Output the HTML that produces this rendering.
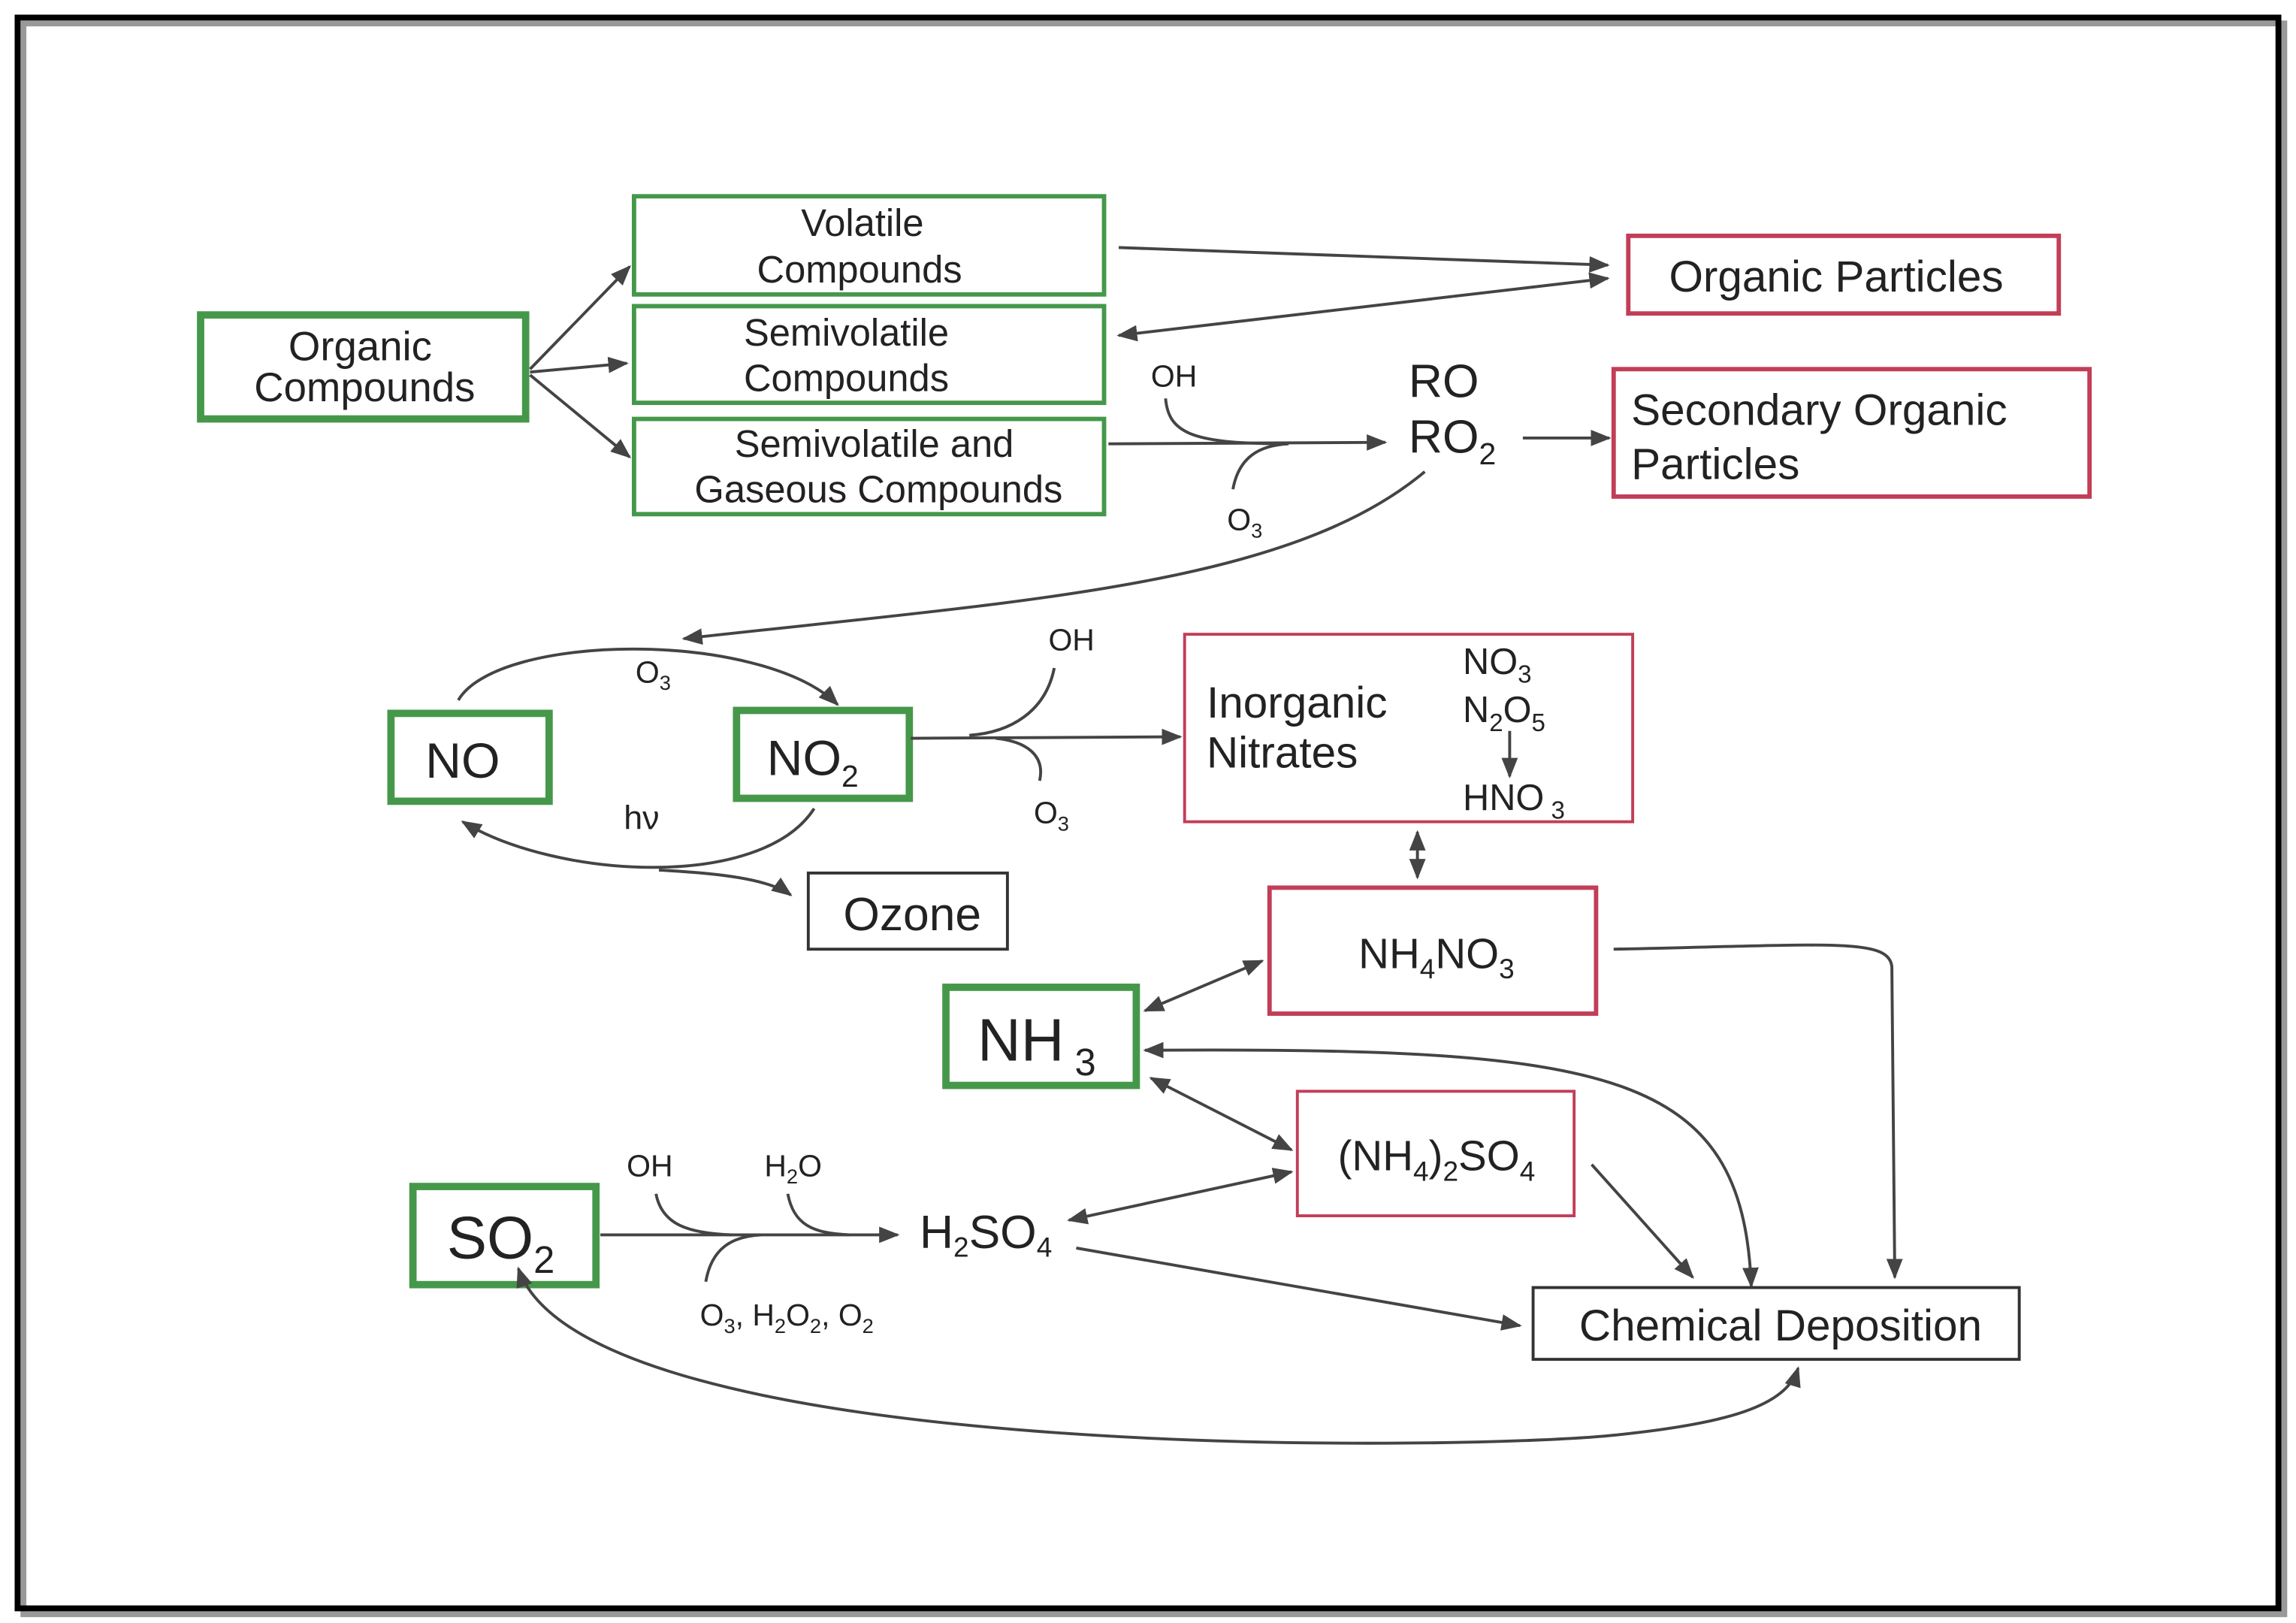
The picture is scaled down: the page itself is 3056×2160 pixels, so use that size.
<!DOCTYPE html>
<html><head><meta charset="utf-8"><style>
html,body{margin:0;padding:0;background:#fff;}
svg{display:block;}
text{font-family:"Liberation Sans","DejaVu Sans",sans-serif;fill:#222;}
</style></head><body>
<svg width="3056" height="2160" viewBox="0 0 1568 1108" preserveAspectRatio="none" xmlns="http://www.w3.org/2000/svg">
<defs>
<marker id="a" viewBox="0 0 10 10" refX="9" refY="5" markerWidth="7" markerHeight="7" orient="auto-start-reverse"><path d="M0,1 L10,5 L0,9 z" fill="#444"/></marker>
</defs>
<rect x="0" y="0" width="1568" height="1108" fill="#fff"/>
<rect x="16" y="16" width="1544" height="1086" fill="none" stroke="#999" stroke-width="4"/>
<rect x="12" y="12" width="1544" height="1086" fill="none" stroke="#000" stroke-width="4"/>
<g fill="#fff" stroke="#45984a">
<rect x="137" y="215" width="222" height="71" stroke-width="5"/>
<rect x="433" y="134" width="321" height="67" stroke-width="3"/>
<rect x="433" y="209" width="321" height="66" stroke-width="3"/>
<rect x="433" y="286" width="321" height="65" stroke-width="3"/>
<rect x="267" y="487" width="108" height="60" stroke-width="5"/>
<rect x="503" y="485" width="118" height="60" stroke-width="5"/>
<rect x="646" y="674" width="130" height="67" stroke-width="5"/>
<rect x="282" y="810" width="125" height="67" stroke-width="5"/>
</g>
<g fill="#fff" stroke="#c23e58" stroke-width="3">
<rect x="1112" y="161" width="294" height="53"/>
<rect x="1102" y="252" width="325" height="87"/>
<rect x="809" y="433" width="306" height="128" stroke-width="2"/>
<rect x="867" y="606" width="223" height="86"/>
<rect x="886" y="745" width="189" height="85" stroke-width="2"/>
</g>
<g fill="#fff" stroke="#333" stroke-width="2">
<rect x="552" y="596" width="136" height="52"/>
<rect x="1047" y="879" width="332" height="49"/>
</g>
<g font-size="28" text-anchor="middle">
<text x="246" y="246">Organic</text><text x="249" y="274">Compounds</text>
<text x="589" y="161" font-size="26">Volatile</text><text x="587" y="193" font-size="26">Compounds</text>
<text x="578" y="236" font-size="26">Semivolatile</text><text x="578" y="267" font-size="26">Compounds</text>
<text x="597" y="312" font-size="26">Semivolatile and</text><text x="600" y="343" font-size="26">Gaseous Compounds</text>
<text x="1254" y="199" font-size="30">Organic Particles</text>
<text x="316" y="531" font-size="34">NO</text>
<text x="555" y="529" font-size="34">NO<tspan font-size="21" dy="8">2</tspan></text>
<text x="623" y="635" font-size="32">Ozone</text>
<text x="981" y="661" font-size="29">NH<tspan font-size="19" dy="7">4</tspan><tspan dy="-7">NO</tspan><tspan font-size="19" dy="7">3</tspan></text>
<text x="708" y="724" font-size="41">NH<tspan font-size="26" dy="10"> 3</tspan></text>
<text x="981" y="799" font-size="29">(NH<tspan font-size="19" dy="7">4</tspan><tspan dy="-7">)</tspan><tspan font-size="19" dy="7">2</tspan><tspan dy="-7">SO</tspan><tspan font-size="19" dy="7">4</tspan></text>
<text x="342" y="859" font-size="41">SO<tspan font-size="26" dy="10">2</tspan></text>
<text x="1216" y="915" font-size="30">Chemical Deposition</text>
</g>
<g font-size="30">
<text x="1114" y="290">Secondary Organic</text><text x="1114" y="327">Particles</text>
<text x="824" y="490">Inorganic</text><text x="824" y="524">Nitrates</text>
<text x="962" y="271" font-size="32">RO</text>
<text x="962" y="309" font-size="32">RO<tspan font-size="21" dy="8">2</tspan></text>
<text x="999" y="460" font-size="25">NO<tspan font-size="17" dy="6">3</tspan></text>
<text x="999" y="493" font-size="25">N<tspan font-size="17" dy="6">2</tspan><tspan dy="-6">O</tspan><tspan font-size="17" dy="6">5</tspan></text>
<text x="999" y="553" font-size="25">HNO<tspan font-size="17" dy="6"> 3</tspan></text>
<text x="628" y="852" font-size="32">H<tspan font-size="19" dy="6">2</tspan><tspan dy="-6">SO</tspan><tspan font-size="19" dy="6">4</tspan></text>
</g>
<g font-size="21">
<text x="786" y="264">OH</text>
<text x="838" y="362">O<tspan font-size="14" dy="5">3</tspan></text>
<text x="716" y="444">OH</text>
<text x="434" y="466">O<tspan font-size="14" dy="5">3</tspan></text>
<text x="706" y="562">O<tspan font-size="14" dy="5">3</tspan></text>
<text x="426" y="566" font-size="23">hν</text>
<text x="428" y="803">OH</text>
<text x="522" y="803">H<tspan font-size="14" dy="5">2</tspan><tspan dy="-5">O</tspan></text>
<text x="478" y="905">O<tspan font-size="14" dy="5">3</tspan><tspan dy="-5">, H</tspan><tspan font-size="14" dy="5">2</tspan><tspan dy="-5">O</tspan><tspan font-size="14" dy="5">2</tspan><tspan dy="-5">, O</tspan><tspan font-size="14" dy="5">2</tspan></text>
</g>
<g fill="none" stroke="#444" stroke-width="2" marker-end="url(#a)">
<line x1="362" y1="252" x2="430" y2="182"/>
<line x1="362" y1="254" x2="428" y2="248"/>
<line x1="362" y1="256" x2="430" y2="312"/>
<line x1="764" y1="169" x2="1098" y2="181"/>
<line x1="1098" y1="190" x2="764" y2="229" marker-start="url(#a)" marker-end="url(#a)"/>
<line x1="757" y1="303" x2="946" y2="302"/>
<path d="M796,272 C798,296 815,302 870,303" marker-end="none"/>
<path d="M842,334 C846,312 860,304 880,303" marker-end="none"/>
<line x1="1040" y1="299" x2="1099" y2="299"/>
<path d="M973,322 C880,400 700,410 467,436"/>
<path d="M313,478 C340,432 520,430 572,481"/>
<line x1="622" y1="504" x2="806" y2="503"/>
<path d="M720,456 C714,486 690,500 662,502" marker-end="none"/>
<path d="M710,533 C714,515 700,506 680,504" marker-end="none"/>
<path d="M556,552 C520,608 380,600 316,561"/>
<path d="M450,594 C490,596 525,600 540,611"/>
<line x1="968" y1="568" x2="968" y2="599" marker-start="url(#a)"/>
<line x1="1031" y1="499" x2="1031" y2="530"/>
<line x1="782" y1="690" x2="862" y2="656" marker-start="url(#a)"/>
<path d="M1102,648 C1250,645 1290,640 1292,660 L1294,872"/>
<path d="M782,717 C1100,715 1190,730 1196,878" marker-start="url(#a)"/>
<line x1="786" y1="736" x2="882" y2="785" marker-start="url(#a)"/>
<line x1="1087" y1="795" x2="1156" y2="872"/>
<line x1="410" y1="843" x2="613" y2="843"/>
<path d="M448,815 C452,836 470,842 500,843" marker-end="none"/>
<path d="M538,815 C542,836 555,842 580,843" marker-end="none"/>
<path d="M482,875 C486,852 500,844 520,843" marker-end="none"/>
<line x1="730" y1="833" x2="882" y2="800" marker-start="url(#a)"/>
<line x1="735" y1="852" x2="1038" y2="905"/>
<path d="M354,866 C400,1000 1000,990 1100,980 C1180,972 1220,960 1228,934" marker-start="url(#a)"/>
</g>
</svg>
</body></html>
